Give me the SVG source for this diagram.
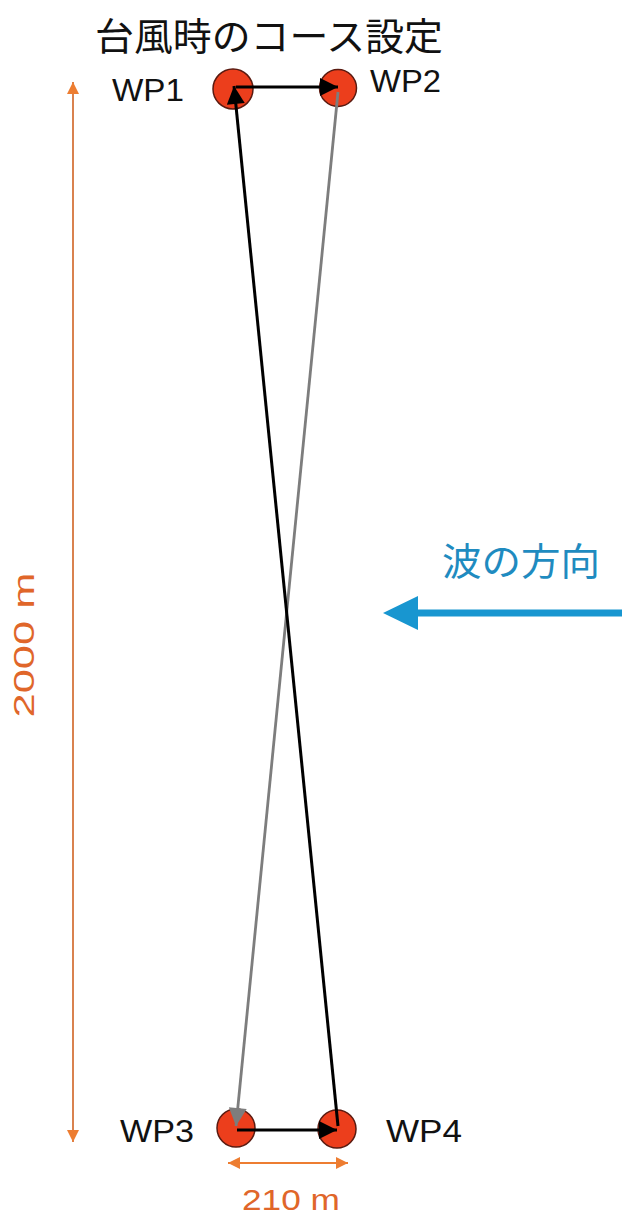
<svg xmlns="http://www.w3.org/2000/svg" width="622" height="1216" viewBox="0 0 622 1216">
<style>
.lbl{font-family:"Liberation Sans","Noto Sans",sans-serif;font-size:31px;fill:#111}
.jp{font-family:"Noto Sans CJK JP","Noto Sans CJK SC",sans-serif}
.dim{font-family:"Liberation Sans","Noto Sans",sans-serif;font-size:30px;fill:#e0662a}
.wp{fill:#ec3e1c;stroke:#5a1a10;stroke-width:1.5}
</style>
<defs>
<marker id="ab" viewBox="0 0 10 10" refX="10" refY="5" markerWidth="22" markerHeight="18" markerUnits="userSpaceOnUse" orient="auto"><path d="M0,0 L10,5 L0,10 z" fill="#000"/></marker>
<marker id="ag" viewBox="0 0 10 10" refX="10" refY="5" markerWidth="22" markerHeight="18" markerUnits="userSpaceOnUse" orient="auto"><path d="M0,0 L10,5 L0,10 z" fill="#7d7d7d"/></marker>
<marker id="ao" viewBox="0 0 10 10" refX="10" refY="5" markerWidth="14" markerHeight="12" markerUnits="userSpaceOnUse" orient="auto"><path d="M0,0 L10,5 L0,10 z" fill="#ed7d31"/></marker>
<marker id="aos" viewBox="0 0 10 10" refX="0" refY="5" markerWidth="14" markerHeight="12" markerUnits="userSpaceOnUse" orient="auto"><path d="M10,0 L0,5 L10,10 z" fill="#ed7d31"/></marker>
</defs>
<rect width="622" height="1216" fill="#fff"/>
<text class="jp" x="95" y="50" font-size="38" fill="#111" textLength="348" lengthAdjust="spacingAndGlyphs">台風時のコース設定</text>
<g id="wp1"><circle class="wp" cx="233" cy="89" r="20"/><text class="lbl" x="112" y="101" textLength="72" lengthAdjust="spacingAndGlyphs">WP1</text></g>
<g id="wp2"><circle class="wp" cx="338" cy="88" r="18.5"/><text class="lbl" x="370" y="92" textLength="71" lengthAdjust="spacingAndGlyphs">WP2</text></g>
<g id="wp3"><circle class="wp" cx="236" cy="1128" r="19"/><text class="lbl" x="120" y="1142" textLength="74" lengthAdjust="spacingAndGlyphs">WP3</text></g>
<g id="wp4"><circle class="wp" cx="337" cy="1129" r="19"/><text class="lbl" x="386" y="1142" textLength="76" lengthAdjust="spacingAndGlyphs">WP4</text></g>
<g id="connectors" fill="none">
<line x1="236" y1="87" x2="338" y2="87" stroke="#000" stroke-width="3" marker-end="url(#ab)"/>
<line x1="338" y1="92" x2="236" y2="1126" stroke="#7d7d7d" stroke-width="2.8" marker-end="url(#ag)"/>
<line x1="338" y1="1126" x2="234" y2="86" stroke="#000" stroke-width="3" marker-end="url(#ab)"/>
<line x1="237" y1="1130" x2="337" y2="1130" stroke="#000" stroke-width="3" marker-end="url(#ab)"/>
</g>
<g id="dim-vertical">
<line x1="73" y1="82" x2="73" y2="1142" stroke="#d9824f" stroke-width="2" marker-start="url(#aos)" marker-end="url(#ao)"/>
<text class="dim" transform="translate(34,645) rotate(-90)" text-anchor="middle" textLength="145" lengthAdjust="spacingAndGlyphs">2000 m</text>
</g>
<g id="dim-horizontal">
<line x1="228" y1="1163" x2="348" y2="1163" stroke="#ed7d31" stroke-width="2" marker-start="url(#aos)" marker-end="url(#ao)"/>
<text class="dim" x="291" y="1210" text-anchor="middle" textLength="98" lengthAdjust="spacingAndGlyphs">210 m</text>
</g>
<g id="wave">
<text class="jp" x="442" y="575" font-size="38" fill="#1f8bc0" textLength="158" lengthAdjust="spacingAndGlyphs">波の方向</text>
<line x1="622" y1="613" x2="415" y2="613" stroke="#1896d0" stroke-width="7"/>
<path d="M383,613 L418,596 L418,630 z" fill="#1896d0"/>
</g>
</svg>
